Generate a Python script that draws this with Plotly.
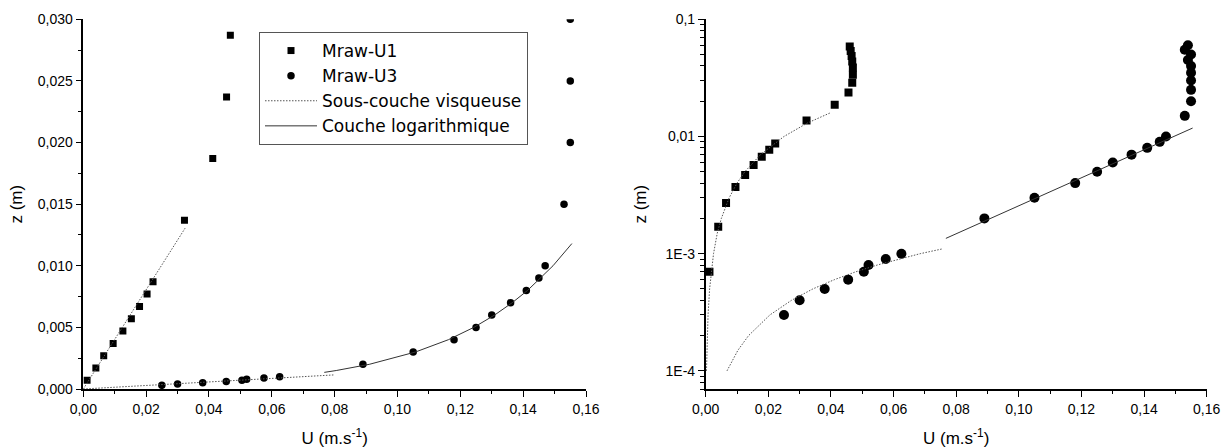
import plotly.graph_objects as go
import math

# ---- data ----
u1 = [0.0012, 0.0040, 0.0065, 0.0095, 0.0126, 0.0153, 0.0179, 0.0203, 0.0222,
      0.0322, 0.0412, 0.0456, 0.0468, 0.0470, 0.0470, 0.0468, 0.0466, 0.0463, 0.0460]
z1 = [0.0007, 0.0017, 0.0027, 0.0037, 0.0047, 0.0057, 0.0067, 0.0077, 0.0087,
      0.0137, 0.0187, 0.0237, 0.0287, 0.0337, 0.0387, 0.0437, 0.0487, 0.0537, 0.0587]

u3 = [0.025, 0.030, 0.038, 0.0455, 0.0505, 0.052, 0.0575, 0.0625, 0.089, 0.105,
      0.118, 0.125, 0.130, 0.136, 0.141, 0.145, 0.147, 0.153, 0.155, 0.155, 0.155,
      0.155, 0.155, 0.154, 0.155, 0.153, 0.154]
z3 = [0.0003, 0.0004, 0.0005, 0.0006, 0.0007, 0.0008, 0.0009, 0.0010, 0.002, 0.003,
      0.004, 0.005, 0.006, 0.007, 0.008, 0.009, 0.010, 0.015, 0.020, 0.025, 0.030,
      0.035, 0.040, 0.045, 0.050, 0.055, 0.060]

# viscous sub-layer fits (left, linear panel)
visc1_u_lin = [0.0, 0.0324]
visc1_z_lin = [0.0, 0.01305]
visc3_u_lin = [0.0, 0.0796]
visc3_z_lin = [0.0, 0.00114]

# viscous sub-layer fits (right, log panel)
visc1_u_log = [0.00025, 0.0005, 0.00075, 0.00125, 0.00175, 0.0025, 0.0037, 0.0050,
               0.0075, 0.0100, 0.0125, 0.0175, 0.0250, 0.0324, 0.0400]
visc1_z_log = [0.0001, 0.0002, 0.0003, 0.0005, 0.0007, 0.0010, 0.0015, 0.0020,
               0.0030, 0.0040, 0.0050, 0.0070, 0.0100, 0.0130, 0.0160]
visc3_u_log = [0.0068, 0.0103, 0.0137, 0.0205, 0.0274, 0.0342, 0.0411, 0.0479,
               0.0548, 0.0616, 0.0685, 0.0757]
visc3_z_log = [0.0001, 0.00015, 0.0002, 0.0003, 0.0004, 0.0005, 0.0006, 0.0007,
               0.0008, 0.0009, 0.0010, 0.0011]

# logarithmic layer fit
log_u = [0.0767, 0.0805, 0.0910, 0.1057, 0.1162, 0.1243, 0.1309, 0.1365, 0.1414,
         0.1456, 0.1495, 0.1555]
log_z = [0.00135, 0.0015, 0.0020, 0.0030, 0.0040, 0.0050, 0.0060, 0.0070, 0.0080,
         0.0090, 0.0100, 0.0118]

lin_yticks = [0.0, 0.005, 0.010, 0.015, 0.020, 0.025, 0.030]
log_yticks = [1e-4, 1e-3, 1e-2, 1e-1]
log_yticktext = ["1E-4", "1E-3", "0,01", "0,1"]
xticks = [0.0, 0.02, 0.04, 0.06, 0.08, 0.10, 0.12, 0.14, 0.16]

legend_names = ["Mraw-U1", "Mraw-U3", "Sous-couche visqueuse", "Couche logarithmique"]

# ---- figure ----
W, H = 1225, 448
fig = go.Figure()

dot_line = dict(color="#555555", width=1, dash="1.5px,1.5px")
solid_line = dict(color="#333333", width=1)

# left panel
fig.add_trace(go.Scatter(x=u1, y=z1, mode="markers", name=legend_names[0],
                         marker=dict(symbol="square", size=7, color="black"),
                         xaxis="x", yaxis="y"))
fig.add_trace(go.Scatter(x=u3, y=z3, mode="markers", name=legend_names[1],
                         marker=dict(symbol="circle", size=7.5, color="black"),
                         xaxis="x", yaxis="y"))
fig.add_trace(go.Scatter(x=visc1_u_lin, y=visc1_z_lin, mode="lines", name=legend_names[2],
                         line=dot_line, xaxis="x", yaxis="y"))
fig.add_trace(go.Scatter(x=visc3_u_lin, y=visc3_z_lin, mode="lines", showlegend=False,
                         line=dot_line, xaxis="x", yaxis="y"))
fig.add_trace(go.Scatter(x=log_u, y=log_z, mode="lines", name=legend_names[3],
                         line=solid_line, xaxis="x", yaxis="y"))

# right panel
fig.add_trace(go.Scatter(x=u1, y=z1, mode="markers", showlegend=False,
                         marker=dict(symbol="square", size=8, color="black"),
                         xaxis="x2", yaxis="y2"))
fig.add_trace(go.Scatter(x=u3, y=z3, mode="markers", showlegend=False,
                         marker=dict(symbol="circle", size=10, color="black"),
                         xaxis="x2", yaxis="y2"))
fig.add_trace(go.Scatter(x=visc1_u_log, y=visc1_z_log, mode="lines", showlegend=False,
                         line=dot_line, xaxis="x2", yaxis="y2"))
fig.add_trace(go.Scatter(x=visc3_u_log, y=visc3_z_log, mode="lines", showlegend=False,
                         line=dot_line, xaxis="x2", yaxis="y2"))
fig.add_trace(go.Scatter(x=log_u, y=log_z, mode="lines", showlegend=False,
                         line=solid_line, xaxis="x2", yaxis="y2"))

tickfont = dict(family="Liberation Sans", size=14, color="black")
titlefont = dict(family="Liberation Sans", size=17, color="black")

common_axis = dict(showline=True, linecolor="black", linewidth=1.5, mirror=False,
                   showgrid=False, zeroline=False, ticks="outside", ticklen=6,
                   tickwidth=1.3, tickcolor="black", tickfont=tickfont,
                   automargin=False)

xtitle = dict(text="U (m.s<sup>-1</sup>)", font=titlefont, standoff=17)

log_minor = []
for e in range(-5, -1):
    for m in range(2, 10):
        v = m * 10 ** e
        if 7e-5 <= v < 0.1:
            log_minor.append(v)

fig.update_layout(
    width=W, height=H,
    margin=dict(l=0, r=0, t=0, b=0, autoexpand=False),
    paper_bgcolor="white", plot_bgcolor="white",
    separators=", ",
    showlegend=True,
    legend=dict(x=259 / W, y=1 - 32 / H, xanchor="left", yanchor="top",
                bordercolor="#555555", borderwidth=1, bgcolor="white",
                font=dict(family="DejaVu Sans", size=17, color="black"),
                tracegroupgap=0, itemwidth=52),
    xaxis=dict(domain=[83.3 / W, 586 / W], range=[0, 0.16], tickvals=xticks,
               tickformat=".2f", anchor="y",
               minor=dict(dtick=0.01, ticks="outside", ticklen=3.5, tickcolor="black",
                          tickwidth=1.2),
               title=xtitle, **common_axis),
    yaxis=dict(domain=[1 - 389 / H, 1 - 19.3 / H], range=[0, 0.030], tickvals=lin_yticks,
               tickformat=".3f", anchor="x",
               minor=dict(dtick=0.0025, ticks="outside", ticklen=3.5, tickcolor="black",
                          tickwidth=1.2),
               title=dict(text="z (m)", font=titlefont, standoff=11), **common_axis),
    xaxis2=dict(domain=[705.7 / W, 1206.7 / W], range=[0, 0.16], tickvals=xticks,
                tickformat=".2f", anchor="y2",
                minor=dict(dtick=0.01, ticks="outside", ticklen=3.5, tickcolor="black",
                           tickwidth=1.2),
                title=xtitle, **common_axis),
    yaxis2=dict(domain=[1 - 389 / H, 1 - 19.3 / H], type="log",
                range=[math.log10(7e-5), -1], tickvals=log_yticks, ticktext=log_yticktext,
                anchor="x2",
                minor=dict(tickmode="array", tickvals=log_minor, ticks="outside",
                           ticklen=3.5, tickcolor="black", tickwidth=1.2),
                title=dict(text="z (m)", font=titlefont, standoff=15), **common_axis),
)

fig.write_html("out.html", config={"displayModeBar": False},
               post_script="document.body.style.margin='0';document.body.style.padding='0';")
